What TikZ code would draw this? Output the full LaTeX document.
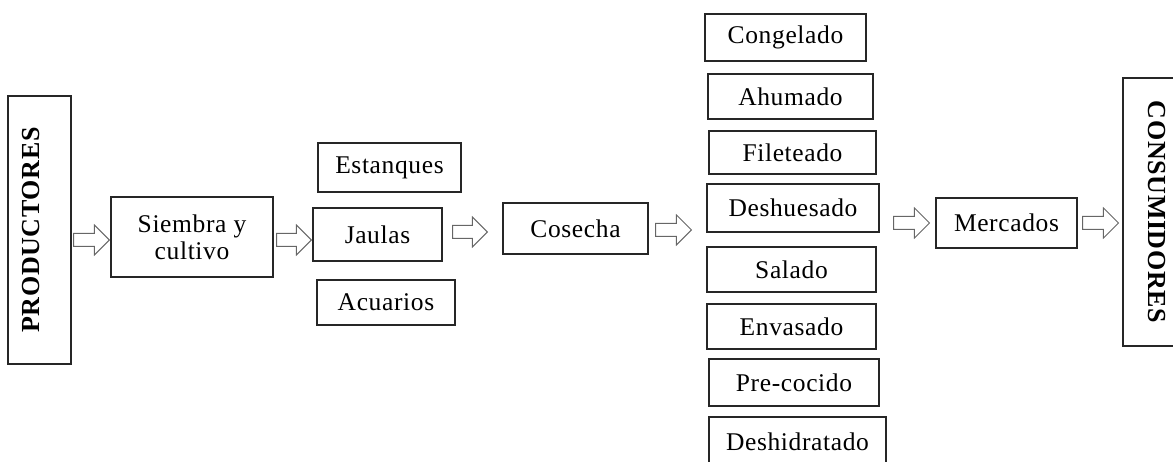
\documentclass[tikz,border=0pt]{standalone}
\usepackage{fontspec}
\usepackage{graphicx}
\setmainfont{Liberation Serif}[LetterSpace=2.5]
\usetikzlibrary{calc}
\tikzset{
  box/.style={draw=black!85, line width=1.1pt, inner sep=0pt, align=center,
    font=\fontsize{25.5}{27}\selectfont},
  blk/.style={draw=black!60, line width=1pt,
    to path={let \p1=(\tikztostart), \p2=(\tikztotarget) in
      (\x1,\y1+6.5pt) -- (\x2-15pt,\y1+6.5pt) -- (\x2-15pt,\y1+15pt) -- (\x2,\y1)
      -- (\x2-15pt,\y1-15pt) -- (\x2-15pt,\y1-6.5pt) -- (\x1,\y1-6.5pt) -- cycle}}
}
\begin{document}
\begin{tikzpicture}[x=1pt,y=-1pt]
\useasboundingbox (0,0) rectangle (1173,462);
% nodes
\node[box, minimum width=63pt, minimum height=268pt] (prod) at (39.5,230)
  {\rotatebox{90}{\fontsize{26}{28}\selectfont\bfseries PRODUCTORES}\hspace*{16pt}};
\node[box, minimum width=162pt, minimum height=80pt] (siem) at (192,237) {Siembra y\\cultivo};
\node[box, minimum width=143pt, minimum height=49pt] (est) at (389.5,167.5) {Estanques};
\node[box, minimum width=129pt, minimum height=53pt] (jaul) at (377.5,234.5) {Jaulas};
\node[box, minimum width=138pt, minimum height=45pt] (acu) at (386,302.5) {Acuarios};
\node[box, minimum width=145pt, minimum height=51pt] (cos) at (575.5,228.5) {Cosecha};
\node[box, minimum width=161pt, minimum height=47pt] (cong) at (785.5,37.5) {Congelado};
\node[box, minimum width=165pt, minimum height=45pt] (ahum) at (790.5,96.5) {Ahumado};
\node[box, minimum width=167pt, minimum height=43pt] (file) at (792.5,152.5) {Fileteado};
\node[box, minimum width=172pt, minimum height=48pt] (desh) at (793,208) {Deshuesado};
\node[box, minimum width=169pt, minimum height=45pt] (sal) at (791.5,269.5) {Salado};
\node[box, minimum width=169pt, minimum height=45pt] (env) at (791.5,326.5) {Envasado};
\node[box, minimum width=170pt, minimum height=47pt] (pre) at (794,382.5) {Pre-cocido};
\node[box, minimum width=177pt, minimum height=50pt] (deshid) at (797.5,442) {Deshidratado};
\node[box, minimum width=141pt, minimum height=50pt] (merc) at (1006.5,223) {Mercados};
\node[box, minimum width=67pt, minimum height=268pt] (cons) at (1156.5,212)
  {\rotatebox{-90}{\fontsize{26}{28}\selectfont\bfseries CONSUMIDORES}};
% block arrows
\draw[blk] ([xshift=2pt,yshift=-10pt]prod.east) to ([xshift=-1pt]siem.west);
\draw[blk] ([xshift=3pt,yshift=-3pt]siem.east) to ([xshift=-1pt]jaul.west);
\draw[blk] ([xshift=10pt,yshift=2.5pt]jaul.east) to ([xshift=-15pt]cos.west);
\draw[blk] ([xshift=7pt,yshift=-1.5pt]cos.east) to ([xshift=-15pt]desh.west);
\draw[blk] ([xshift=14pt,yshift=-15pt]desh.east) to ([xshift=-6pt]merc.west);
\draw[blk] ([xshift=5pt]merc.east) to ([xshift=-4pt]cons.west);
\end{tikzpicture}
\end{document}
